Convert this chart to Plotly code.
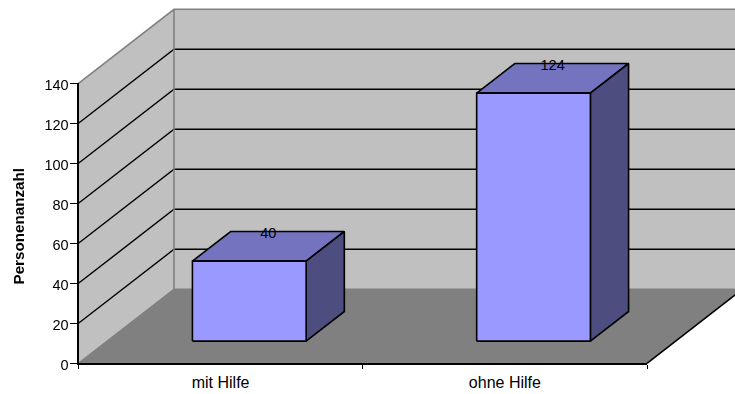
import plotly.graph_objects as go

categories = ["mit Hilfe", "ohne Hilfe"]
values = [40, 124]
y_ticks = [0, 20, 40, 60, 80, 100, 120, 140]
y_title = "Personenanzahl"

WIDTH, HEIGHT = 735, 394
FONT = "Liberation Sans, Arial, sans-serif"
WALL, FLOOR, EDGE = "#C0C0C0", "#808080", "#808080"
FRONT, TOP, SIDE = "#9999FF", "#7373BF", "#4D4D80"

# Scales of the oblique projection: one category step and one value unit in pixels,
# plus the screen shift of the full chart depth.
ORIGIN_X, ORIGIN_Y = 78.5, 363.3
CAT_PX, UNIT_PX = 284.25, 2.0
DEPTH_X = 95.5 / CAT_PX
DEPTH_Y = 74.0 / UNIT_PX
Y_MAX = y_ticks[-1]
N = len(categories)
BAR_LEFT, BAR_RIGHT = 0.3, 0.7
Z_NEAR, Z_FAR = 0.3, 0.7
Z_LABEL_X, Z_LABEL_Y = 0.5, 0.665


def project(x, v, z):
    return x + z * DEPTH_X, v + z * DEPTH_Y


def polygon(points):
    xy = [project(*p) for p in points + points[:1]]
    return [p[0] for p in xy], [p[1] for p in xy]


def face(points, fill, line="rgba(0,0,0,0)", width=0):
    xs, ys = polygon(points)
    return go.Scatter(x=xs, y=ys, mode="lines", fill="toself", fillcolor=fill,
                      line=dict(color=line, width=width, shape="linear"),
                      hoverinfo="skip", showlegend=False)


def path(points, color, width):
    xs, ys = [], []
    for p in points:
        if p is None:
            xs.append(None)
            ys.append(None)
        else:
            a, b = project(*p)
            xs.append(a)
            ys.append(b)
    return go.Scatter(x=xs, y=ys, mode="lines", line=dict(color=color, width=width),
                      hoverinfo="skip", showlegend=False)


fig = go.Figure()

# Walls and floor
fig.add_trace(face([(0, 0, 0), (0, 0, 1), (0, Y_MAX, 1), (0, Y_MAX, 0)], WALL))
fig.add_trace(face([(0, 0, 1), (N, 0, 1), (N, Y_MAX, 1), (0, Y_MAX, 1)], WALL))
fig.add_trace(face([(0, 0, 0), (N, 0, 0), (N, 0, 1), (0, 0, 1)], FLOOR))

# Gridlines run along the left wall and across the back wall
grid = []
for v in y_ticks[1:-1]:
    grid += [(0, v, 0), (0, v, 1), (N, v, 1), None]
fig.add_trace(path(grid, "#000000", 1.4))

# Wall outlines and floor edges
fig.add_trace(path([(0, Y_MAX, 0), (0, Y_MAX, 1), (N, Y_MAX, 1), None,
                    (0, Y_MAX, 1), (0, 0, 1), (N, 0, 1), None,
                    (0, 0, 0), (0, 0, 1)], EDGE, 1.6))
fig.add_trace(path([(N, 0, 0), (N, 0, 1)], "#000000", 1.6))

# Bars: front, top and side faces
for i, v in enumerate(values):
    l, r = i + BAR_LEFT, i + BAR_RIGHT
    fig.add_trace(face([(l, v, Z_NEAR), (r, v, Z_NEAR), (r, v, Z_FAR), (l, v, Z_FAR)], TOP, "#000000", 1.6))
    fig.add_trace(face([(r, 0, Z_NEAR), (r, 0, Z_FAR), (r, v, Z_FAR), (r, v, Z_NEAR)], SIDE, "#000000", 1.6))
    fig.add_trace(face([(l, 0, Z_NEAR), (r, 0, Z_NEAR), (r, v, Z_NEAR), (l, v, Z_NEAR)], FRONT, "#000000", 1.6))

# Value labels sit on the back edge of each bar's top face
fig.add_trace(go.Scatter(x=[project(i + 0.5, v, Z_LABEL_X)[0] for i, v in enumerate(values)],
                         y=[project(i + 0.5, v, Z_LABEL_Y)[1] for i, v in enumerate(values)],
                         mode="text", text=[str(v) for v in values],
                         textposition="middle center",
                         textfont=dict(family=FONT, size=14.5, color="#000000"),
                         hoverinfo="skip", showlegend=False))

# Front axes carry the ticks and category labels on top of the drawing
fig.add_trace(go.Scatter(x=categories, y=values, mode="markers", opacity=0,
                         xaxis="x2", yaxis="y2", hoverinfo="skip", showlegend=False))

fig.update_layout(
    width=WIDTH, height=HEIGHT,
    margin=dict(l=0, r=0, t=0, b=0),
    paper_bgcolor="#FFFFFF", plot_bgcolor="rgba(0,0,0,0)",
    showlegend=False,
    xaxis=dict(visible=False, domain=[0, 1], anchor="y", automargin=False,
               range=[-ORIGIN_X / CAT_PX, (WIDTH - ORIGIN_X) / CAT_PX]),
    yaxis=dict(visible=False, domain=[0, 1], anchor="x", automargin=False,
               range=[-(HEIGHT - ORIGIN_Y) / UNIT_PX, ORIGIN_Y / UNIT_PX]),
    xaxis2=dict(type="category", categoryorder="array", categoryarray=categories,
                domain=[ORIGIN_X / WIDTH, (ORIGIN_X + N * CAT_PX) / WIDTH],
                range=[-0.5, N - 0.5], anchor="y2", tickson="boundaries", automargin=False,
                ticks="outside", ticklen=4, tickwidth=1, tickcolor="#000000",
                ticklabelstandoff=3,
                showline=True, linecolor="#000000", linewidth=2,
                showgrid=False, zeroline=False,
                tickfont=dict(family=FONT, size=16, color="#000000")),
    yaxis2=dict(domain=[(HEIGHT - ORIGIN_Y) / HEIGHT, (HEIGHT - ORIGIN_Y + Y_MAX * UNIT_PX) / HEIGHT],
                range=[0, Y_MAX], anchor="x2", tickmode="array", tickvals=y_ticks, automargin=False,
                ticks="outside", ticklen=7, tickwidth=1, tickcolor="#000000",
                ticklabelstandoff=-2, ticklabelshift=2,
                showline=True, linecolor="#000000", linewidth=2,
                showgrid=False, zeroline=False,
                tickfont=dict(family=FONT, size=14.5, color="#000000")),
    annotations=[dict(text=f"<b>{y_title}</b>", textangle=-90, xref="paper", yref="paper",
                      x=18 / WIDTH, y=1 - 226.5 / HEIGHT, xanchor="center", yanchor="middle",
                      showarrow=False, font=dict(family=FONT, size=15.2, color="#000000"))],
)

fig.write_html("out.html")
